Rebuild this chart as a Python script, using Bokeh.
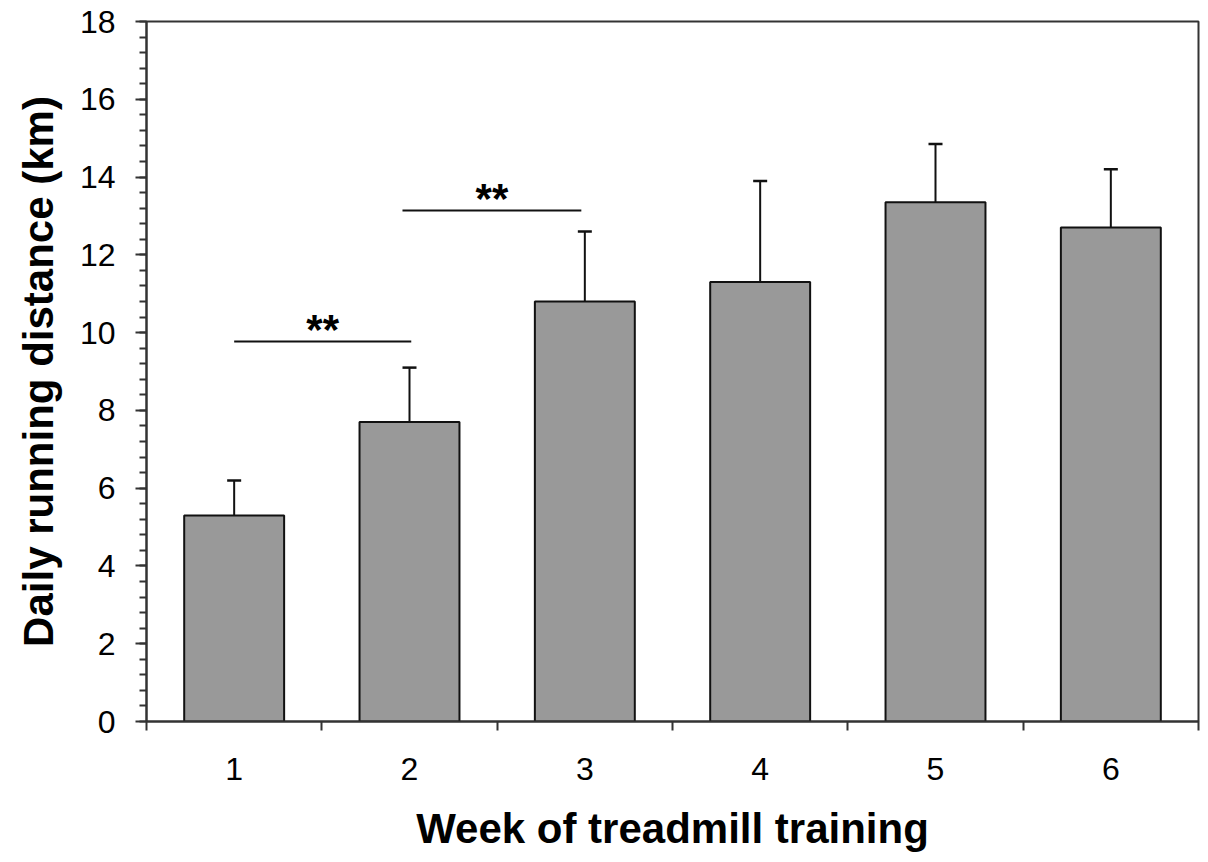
from bokeh.plotting import figure
from bokeh.models import (ColumnDataSource, Range1d, SingleIntervalTicker, FixedTicker,
                          Whisker, TeeHead)
from bokeh.core.properties import value
from bokeh.embed import file_html
from bokeh.resources import INLINE

# Data
weeks = [1, 2, 3, 4, 5, 6]
week_labels = ["1", "2", "3", "4", "5", "6"]
mean_km = [5.3, 7.7, 10.8, 11.3, 13.35, 12.7]
sd_km = [0.9, 1.4, 1.8, 2.6, 1.5, 1.5]
sig_start = [1.0, 1.96]
sig_end = [2.01, 2.98]
sig_y = [9.77, 13.14]
sig_text = ["**", "**"]

FONT = "Liberation Sans"

p = figure(width=1200, height=854, output_backend="svg", toolbar_location=None,
           x_range=Range1d(0.5, 6.5), y_range=Range1d(0, 18),
           min_border_left=146, min_border_right=2, min_border_top=21, min_border_bottom=123)
p.xgrid.grid_line_color = None
p.ygrid.grid_line_color = None
p.outline_line_color = "#333333"
p.outline_line_width = 2
p.background_fill_color = "white"
p.border_fill_color = "white"

src = ColumnDataSource(dict(
    x=weeks, top=mean_km,
    upper=[m + s for m, s in zip(mean_km, sd_km)],
))

# error bars (upper only), drawn below bars
w = Whisker(source=src, base="x", upper="upper", lower="top",
            line_color="#111111", line_width=2,
            upper_head=TeeHead(size=14, line_color="#111111", line_width=2.5),
            lower_head=None)
p.add_layout(w)

p.vbar(x="x", top="top", width=0.57, bottom=0, source=src,
       fill_color="#999999", line_color="#111111", line_width=2)

# significance lines
sig_src = ColumnDataSource(dict(
    x0=sig_start, x1=sig_end, y=sig_y,
    xm=[(a + b) / 2 for a, b in zip(sig_start, sig_end)], t=sig_text))
p.segment(x0="x0", y0="y", x1="x1", y1="y", source=sig_src, line_color="#111111", line_width=2)
p.text(x="xm", y="y", text="t", source=sig_src, text_font=value(FONT),
       text_font_style="bold", text_font_size="42px", text_align="center",
       text_baseline="alphabetic", y_offset=-12, text_color="black")

# Y axis
ya = p.yaxis[0]
ya.ticker = SingleIntervalTicker(interval=2, num_minor_ticks=5)
ya.major_tick_in = 0
ya.major_tick_out = 11
ya.minor_tick_in = 0
ya.minor_tick_out = 7
ya.major_tick_line_width = 2
ya.minor_tick_line_width = 2
ya.major_tick_line_color = "#333333"
ya.minor_tick_line_color = "#333333"
ya.axis_line_color = "#333333"
ya.axis_line_width = 2
ya.major_label_text_font = FONT
ya.major_label_text_font_size = "32px"
ya.major_label_text_color = "black"
ya.major_label_standoff = 20
ya.axis_label = "Daily running distance (km)"
ya.axis_label_text_font = FONT
ya.axis_label_text_font_style = "bold"
ya.axis_label_text_font_size = "42px"
ya.axis_label_text_color = "black"
ya.axis_label_standoff = 15

# X axis
xa = p.xaxis[0]
xa.ticker = FixedTicker(ticks=weeks, minor_ticks=[x - 0.5 for x in weeks] + [weeks[-1] + 0.5])
xa.major_label_overrides = {w_: l for w_, l in zip(weeks, week_labels)}
xa.major_tick_in = 0
xa.major_tick_out = 0
xa.major_tick_line_color = None
xa.minor_tick_in = 0
xa.minor_tick_out = 9
xa.minor_tick_line_width = 2
xa.minor_tick_line_color = "#333333"
xa.axis_line_color = "#333333"
xa.axis_line_width = 2
xa.major_label_text_font = FONT
xa.major_label_text_font_size = "32px"
xa.major_label_text_color = "black"
xa.major_label_standoff = 27
xa.axis_label = "Week of treadmill training"
xa.axis_label_text_font = FONT
xa.axis_label_text_font_style = "bold"
xa.axis_label_text_font_size = "42px"
xa.axis_label_text_color = "black"
xa.axis_label_standoff = 22

open("out.html", "w").write(file_html(p, INLINE))
